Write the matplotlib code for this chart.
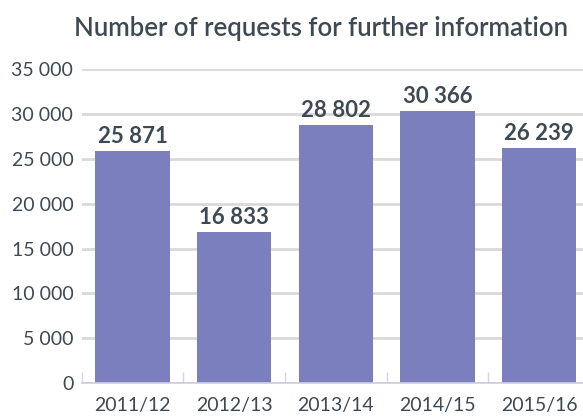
import matplotlib.pyplot as plt

years = ["2011/12", "2012/13", "2013/14", "2014/15", "2015/16"]
requests = [25871, 16833, 28802, 30366, 26239]
y_ticks = [0, 5000, 10000, 15000, 20000, 25000, 30000, 35000]

TEXT = "#3f4954"
BAR = "#7b7fbd"

plt.rcParams["font.family"] = ["Lato", "DejaVu Sans"]

fig = plt.figure(figsize=(5.83, 4.18), dpi=100)
ax = fig.add_axes([0.14, 0.084, 0.872, 0.75])

x = list(range(len(years)))
bars = ax.bar(x, requests, width=0.73, color=BAR, zorder=3)

for b, v in zip(bars, requests):
    ax.text(b.get_x() + b.get_width() / 2, v + 450, f"{v:,}".replace(",", " "),
            ha="center", va="bottom", fontsize=16, fontweight="bold", color=TEXT)

ax.set_xlim(-0.5, 4.5)
ax.set_ylim(0, 35000)
ax.set_yticks(y_ticks)
ax.set_yticklabels([f"{t:,}".replace(",", " ") for t in y_ticks])
ax.set_xticks(x)
ax.set_xticklabels(years)
ax.tick_params(axis="both", labelsize=14, labelcolor=TEXT, length=0)
ax.tick_params(axis="x", pad=10)
ax.tick_params(axis="y", pad=6)

# ticks at the category boundaries
ax.set_xticks([i - 0.5 for i in range(len(years) + 1)], minor=True)
ax.tick_params(axis="x", which="minor", direction="in", length=8, width=1, color="#d8d6e6")

ax.yaxis.grid(True, color="#d9d9d9", linewidth=2, zorder=0)
for s in ["top", "right", "left"]:
    ax.spines[s].set_visible(False)
ax.spines["bottom"].set_color("#d0cde0")
ax.spines["bottom"].set_linewidth(1.2)
ax.spines["bottom"].set_zorder(4)

fig.text(0.551, 0.933, "Number of requests for further information",
         ha="center", va="center", fontsize=18.5, fontweight="semibold", color=TEXT)

fig.savefig("out.png", dpi=100)
